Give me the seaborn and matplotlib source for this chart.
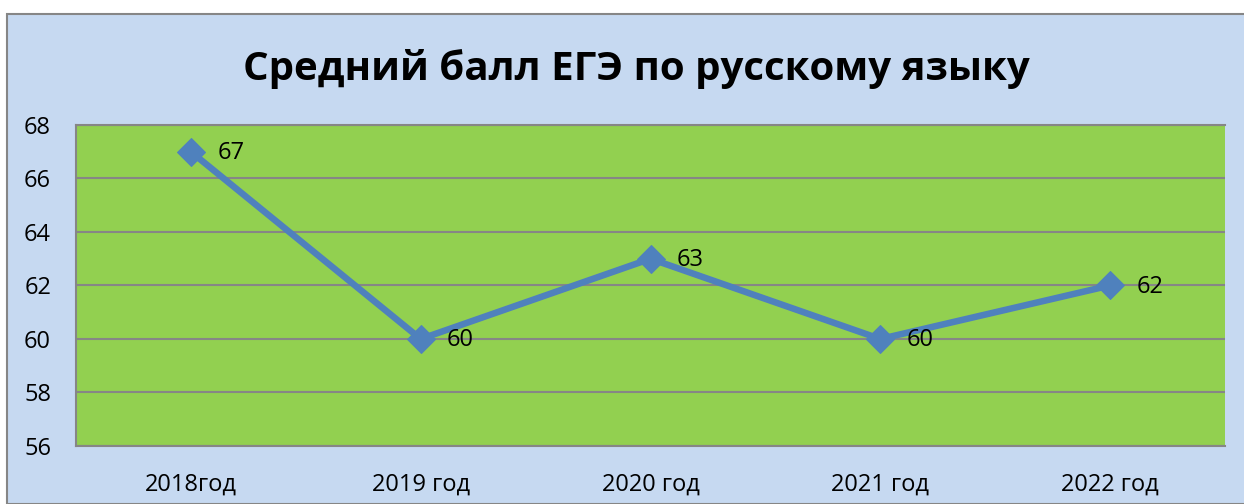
import pandas as pd
import seaborn as sns
import matplotlib.pyplot as plt
from matplotlib.patches import Rectangle

# chart data
years = ['2018год', '2019 год', '2020 год', '2021 год', '2022 год']
scores = [67, 60, 63, 60, 62]
y_ticks = [56, 58, 60, 62, 64, 66, 68]

df = pd.DataFrame({'year': years, 'score': scores})
df['pos'] = range(len(df))

sns.set_style('white')
plt.rcParams['font.family'] = ['Open Sans', 'DejaVu Sans']
plt.rcParams['text.color'] = 'black'
plt.rcParams['xtick.color'] = 'black'
plt.rcParams['ytick.color'] = 'black'

fig = plt.figure(figsize=(12.44, 5.04), dpi=100, facecolor='white')

# outer chart area (light blue, cut off on the right as in the source)
fig.patches.append(Rectangle((7 / 1244, 0), 1.1, 490 / 504, transform=fig.transFigure,
                             facecolor='#C6D9F1', edgecolor='#868686', linewidth=1.5,
                             zorder=-5))

ax = fig.add_axes([76 / 1244, 58 / 504, 1149 / 1244, 321 / 504])
ax.set_zorder(2)
ax.set_facecolor('#92D050')

sns.lineplot(data=df, x='pos', y='score', ax=ax, color='#4F81BD', linewidth=4.7,
             marker='D', markersize=14, markeredgecolor='#4F81BD', zorder=3)

for x, y in zip(df['pos'], df['score']):
    ax.annotate(str(y), (x, y), xytext=(19, -1), textcoords='offset points',
                ha='left', va='center', fontsize=17, color='black')

ax.set_xlim(-0.5, len(years) - 0.5)
ax.set_ylim(y_ticks[0], y_ticks[-1])
ax.set_yticks(y_ticks)
ax.set_xticks(df['pos'])
ax.set_xticklabels(years)
ax.yaxis.grid(True, color='#868686', linewidth=1.5)
ax.tick_params(axis='both', length=0, labelsize=17)
ax.tick_params(axis='y', pad=18)
ax.tick_params(axis='x', pad=19)
ax.set_xlabel('')
ax.set_ylabel('')

for side in ['left', 'bottom', 'top']:
    ax.spines[side].set_color('#868686')
    ax.spines[side].set_linewidth(1.5)
ax.spines['right'].set_visible(False)

fig.text(636 / 1244, 1 - 80 / 504, 'Средний балл ЕГЭ по русскому языку',
         ha='center', va='baseline', fontsize=29, fontweight='bold', color='black')

fig.savefig('out.png', dpi=100, facecolor='white')
